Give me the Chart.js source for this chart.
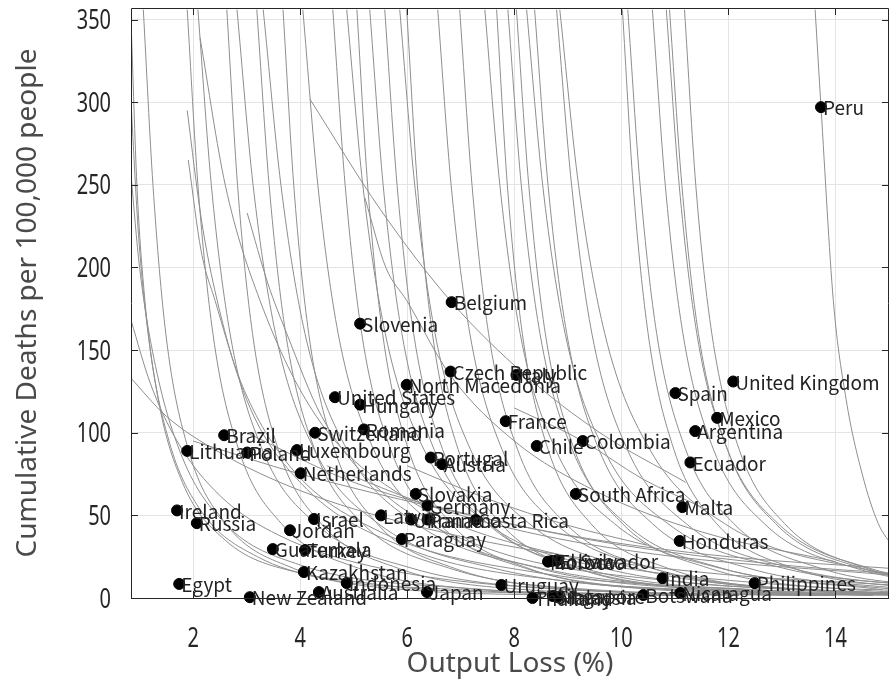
<!DOCTYPE html>
<html lang="en">
<head>
<meta charset="UTF-8">
<title>Output Loss and Cumulative Deaths</title>
<script src="https://cdn.jsdelivr.net/npm/chart.js"></script>
<style>
  html, body { margin: 0; padding: 0; background: #fff; }
  #wrap { width: 890px; height: 686px; }
</style>
</head>
<body>
<div id="wrap"><canvas id="lossChart" width="890" height="686"></canvas></div>
<script>
// country points
const countries = [
  'Peru', 'Belgium', 'Slovenia', 'Czech Republic', 'Italy', 'North Macedonia',
  'United States', 'Hungary', 'Spain', 'United Kingdom', 'Mexico', 'Argentina',
  'France', 'Chile', 'Colombia', 'Ecuador', 'Romania', 'Switzerland', 'Brazil',
  'Lithuania', 'Poland', 'Luxembourg', 'Netherlands', 'Portugal', 'Austria',
  'Slovakia', 'Germany', 'Latvia', 'Ukraine', 'Panama', 'Costa Rica', 'Paraguay',
  'South Africa', 'Malta', 'Honduras', 'Ireland', 'Russia', 'Israel', 'Jordan',
  'Guatemala', 'Turkey', 'Kazakhstan', 'Egypt', 'New Zealand', 'Australia',
  'Indonesia', 'Japan', 'Uruguay', 'Morocco', 'Bolivia', 'El Salvador', 'India',
  'Philippines', 'Nicaragua', 'Botswana', 'Thailand', 'Singapore', 'Malaysia'
];
const outputLoss = [
  13.73, 6.83, 5.12, 6.81, 8.04, 5.99,
  4.65, 5.12, 11.01, 12.09, 11.79, 11.38,
  7.84, 8.42, 9.28, 11.29, 5.19, 4.28, 2.58,
  1.89, 3.01, 3.94, 4.01, 6.44, 6.65,
  6.16, 6.38, 5.51, 6.07, 6.38, 7.28, 5.90,
  9.15, 11.14, 11.09, 1.70, 2.07, 4.26, 3.81,
  3.49, 4.09, 4.07, 1.74, 3.06, 4.35,
  4.87, 6.37, 7.76, 8.63, 8.70, 8.80, 10.77,
  12.49, 11.10, 10.41, 8.34, 8.72, 8.81
];
const deaths = [
  297, 179, 166, 137, 135, 129,
  121.5, 117, 124, 131, 109, 101,
  107, 92, 95, 82, 102, 100, 98.5,
  89, 88, 89.5, 75.5, 85, 81,
  63, 56, 50, 47.5, 47.5, 47.2, 35.7,
  63, 55, 34.5, 53, 45.3, 47.8, 41,
  29.6, 29, 15.7, 8.5, 0.5, 3.6,
  9, 3.6, 7.9, 22, 22.4, 22.8, 12,
  9, 3, 1.8, 0, 1.2, 0.6
];

const xTicks = [2, 4, 6, 8, 10, 12, 14];
const yTicks = [0, 50, 100, 150, 200, 250, 300, 350];

// grey trade-off curves, [output loss, deaths] pairs
const isoCurves = [
  [[0.84,350],[0.95,250],[1.1,180],[1.35,120],[1.8,70],[2.6,35],[4,15],[7,5],[11,1.5]],
  [[0.84,300],[0.98,220],[1.2,150],[1.55,95],[2.1,55],[3.2,25],[5.5,8],[9,2]],
  [[0.84,256],[1.0,200],[1.3,140],[1.8,85],[2.6,45],[4,20],[7,6],[11,1.5]],
  [[0.84,168],[1.2,130],[1.7,95],[2.5,62],[3.6,38],[5.5,18],[9,5],[14,1.5]],
  [[0.84,133],[1.5,110],[2.5,88],[4,65],[6,45],[8.5,28],[12,14],[15,8]],
  [[1.07,356],[1.25,250],[1.49,160],[1.91,90],[2.61,45],[3.87,18],[5.97,5],[9.5,1.5]],
  [[1.89,356],[2.09,250],[2.37,160],[2.85,90],[3.65,45],[5.09,18],[7.49,5],[11.5,1.5]],
  [[2.09,356],[2.34,250],[2.69,160],[3.29,90],[4.29,45],[6.09,18],[9.09,5],[14,1.5]],
  [[2.63,356],[2.83,250],[3.11,160],[3.59,90],[4.39,45],[5.83,18],[8.23,5],[12.2,1.5]],
  [[2.82,356],[3.12,250],[3.54,160],[4.26,90],[5.46,45],[7.62,18],[11.22,5],[17,1.5]],
  [[3.19,356],[3.42,250],[3.73,160],[4.27,90],[5.17,45],[6.79,18],[9.49,5],[14,1.5]],
  [[3.31,356],[3.64,250],[4.09,160],[4.87,90],[6.17,45],[8.51,18],[12.41,5],[19,1.5]],
  [[3.68,356],[3.88,250],[4.16,160],[4.64,90],[5.44,45],[6.88,18],[9.28,5],[13.3,1.5]],
  [[4.05,356],[4.33,250],[4.71,160],[5.37,90],[6.47,45],[8.45,18],[11.75,5],[17,1.5]],
  [[4.61,356],[4.84,250],[5.15,160],[5.69,90],[6.59,45],[8.21,18],[10.91,5],[15.4,1.5]],
  [[4.87,356],[5.17,250],[5.59,160],[6.31,90],[7.51,45],[9.67,18],[13.27,5],[19,1.5]],
  [[5.06,356],[5.26,250],[5.54,160],[6.02,90],[6.82,45],[8.26,18],[10.66,5],[14.7,1.5]],
  [[5.30,356],[5.55,250],[5.90,160],[6.50,90],[7.50,45],[9.30,18],[12.30,5],[17.3,1.5]],
  [[5.58,356],[5.81,250],[6.12,160],[6.66,90],[7.56,45],[9.18,18],[11.88,5],[16.4,1.5]],
  [[5.86,356],[6.14,250],[6.52,160],[7.18,90],[8.28,45],[10.26,18],[13.56,5],[19,1.5]],
  [[5.99,356],[6.19,250],[6.47,160],[6.95,90],[7.75,45],[9.19,18],[11.59,5],[15.6,1.5]],
  [[6.57,356],[6.82,250],[7.17,160],[7.77,90],[8.77,45],[10.57,18],[13.57,5],[18.6,1.5]],
  [[6.98,356],[7.21,250],[7.52,160],[8.06,90],[8.96,45],[10.58,18],[13.28,5],[17.8,1.5]],
  [[7.45,356],[7.73,250],[8.11,160],[8.77,90],[9.87,45],[11.85,18],[15.15,5]],
  [[7.67,356],[7.87,250],[8.15,160],[8.63,90],[9.43,45],[10.87,18],[13.27,5],[17.3,1.5]],
  [[7.88,356],[8.13,250],[8.48,160],[9.08,90],[10.08,45],[11.88,18],[14.88,5]],
  [[8.04,356],[8.27,250],[8.58,160],[9.12,90],[10.02,45],[11.64,18],[14.34,5],[18.8,1.5]],
  [[8.23,356],[8.53,250],[8.95,160],[9.67,90],[10.87,45],[13.03,18],[16.63,5]],
  [[8.38,356],[8.63,250],[8.98,160],[9.58,90],[10.58,45],[12.38,18],[15.38,5]],
  [[8.79,356],[9.07,250],[9.45,160],[10.11,90],[11.21,45],[13.19,18],[16.49,5]],
  [[8.85,356],[9.20,250],[9.69,160],[10.53,90],[11.93,45],[14.45,18],[18.65,5]],
  [[10.02,356],[10.22,250],[10.50,160],[10.98,90],[11.78,45],[13.22,18],[15.62,5]],
  [[10.12,356],[10.35,250],[10.66,160],[11.20,90],[12.10,45],[13.72,18],[16.42,5]],
  [[10.58,356],[10.82,250],[11.15,160],[11.72,90],[12.67,45],[14.38,18],[17.23,5]],
  [[10.84,356],[11.08,250],[11.41,160],[11.98,90],[12.93,45],[14.64,18],[17.49,5]],
  [[10.90,356],[11.13,250],[11.44,160],[11.98,90],[12.88,45],[14.50,18],[17.20,5]],
  [[11.18,356],[11.39,250],[11.69,160],[12.20,90],[13.05,45],[14.58,18],[17.13,5]],
  [[13.62,356],[13.73,297],[13.96,180],[14.2,120],[14.5,75],[14.8,45],[15.1,30]],
  [[2.13,339],[2.6,250],[3.25,180],[4.3,110],[6,60],[9,25],[13,8],[17,3]],
  [[1.89,295],[2.15,230],[2.45,180],[3.0,120],[4.0,70],[6,30],[9,10],[13,3]],
  [[1.91,265],[2.15,210],[2.41,180],[2.9,130],[3.8,80],[5.5,40],[8.5,15],[13,4]],
  [[3.01,233],[3.4,190],[3.75,160],[4.4,110],[5.5,65],[7.5,30],[11,10],[15,3]],
  [[4.18,302],[5.5,235],[6.83,179],[8.2,135],[9.6,100],[11.2,70]],
  [[5.21,242],[5.6,200],[5.99,180],[6.8,135],[8,95],[9.5,65],[11.5,40],[14,22]],
  [[2.0,95],[4,75],[6.5,55],[9,38],[12,25],[15,18]],
  [[3.0,100],[5,70],[7.5,48],[10,32],[13,20],[15,15]],
  [[4.5,80],[6.5,55],[8.5,38],[11,25],[15,14]],
  [[6.0,80],[7.5,60],[9,44],[10.47,32]],
  [[8.0,115],[9.28,95],[10.4,72],[11.5,55]]
];

const labelFont = "19px 'Noto Sans CJK JP', 'Noto Sans', sans-serif";
const tickFont = "27px 'Noto Sans', sans-serif";
const titleFont = "28px 'Noto Sans', sans-serif";

const curveSets = isoCurves.map(pts => ({
  type: 'line',
  data: pts.map(p => ({ x: p[0], y: p[1] })),
  borderColor: '#8e8e8e',
  borderWidth: 1,
  pointRadius: 0,
  fill: false,
  cubicInterpolationMode: 'monotone',
  order: 2
}));

const pointSet = {
  type: 'scatter',
  data: outputLoss.map((x, i) => ({ x: x, y: deaths[i] })),
  backgroundColor: '#000',
  borderColor: '#000',
  pointRadius: 5.5,
  clip: false,
  order: 1
};

// country names next to their dots
const namePlugin = {
  id: 'names',
  afterDatasetsDraw(chart) {
    const { ctx, scales: { x, y } } = chart;
    ctx.save();
    ctx.font = labelFont;
    ctx.fillStyle = '#222';
    ctx.textAlign = 'left';
    ctx.textBaseline = 'middle';
    countries.forEach((name, i) => {
      ctx.fillText(name, x.getPixelForValue(outputLoss[i]) + 2, y.getPixelForValue(deaths[i]) + 1);
    });
    ctx.restore();
  }
};

// narrow tick numbers
function drawNumber(ctx, text, px, py, align) {
  ctx.save();
  ctx.translate(px, py);
  ctx.scale(0.74, 1);
  ctx.textAlign = align;
  ctx.textBaseline = 'alphabetic';
  ctx.fillText(text, 0, 9.6);
  ctx.restore();
}

// box, inward ticks, tick labels and axis titles
const framePlugin = {
  id: 'frame',
  afterDraw(chart) {
    const { ctx, chartArea: a, scales: { x, y } } = chart;
    ctx.save();
    ctx.strokeStyle = '#262626';
    ctx.lineWidth = 1;
    ctx.beginPath();
    ctx.rect(a.left + 0.5, a.top + 0.5, a.right - a.left - 1, a.bottom - a.top);
    xTicks.forEach(v => {
      const px = Math.round(x.getPixelForValue(v)) + 0.5;
      ctx.moveTo(px, a.bottom); ctx.lineTo(px, a.bottom - 7);
      ctx.moveTo(px, a.top); ctx.lineTo(px, a.top + 7);
    });
    yTicks.forEach(v => {
      const py = Math.round(y.getPixelForValue(v)) + 0.5;
      ctx.moveTo(a.left, py); ctx.lineTo(a.left + 7, py);
      ctx.moveTo(a.right, py); ctx.lineTo(a.right - 7, py);
    });
    ctx.stroke();

    ctx.fillStyle = '#262626';
    ctx.font = tickFont;
    yTicks.forEach(v => drawNumber(ctx, String(v), a.left - 20, y.getPixelForValue(v), 'right'));
    xTicks.forEach(v => drawNumber(ctx, String(v), x.getPixelForValue(v), 637, 'center'));

    ctx.fillStyle = '#4a4a4a';
    ctx.font = titleFont;
    ctx.textAlign = 'center';
    ctx.textBaseline = 'middle';
    ctx.fillText('Output Loss (%)', (a.left + a.right) / 2, 664);
    ctx.translate(28, (a.top + a.bottom) / 2);
    ctx.rotate(-Math.PI / 2);
    ctx.fillText('Cumulative Deaths per 100,000 people', 0, 0);
    ctx.restore();
  }
};

function fixBox(w, h) {
  return s => {
    if (w) s.width = w;
    if (h) s.height = h;
    s.paddingLeft = 0; s.paddingRight = 0; s.paddingTop = 0; s.paddingBottom = 0;
  };
}

new Chart(document.getElementById('lossChart'), {
  type: 'scatter',
  data: { datasets: [pointSet, ...curveSets] },
  options: {
    responsive: false,
    devicePixelRatio: 1,
    animation: false,
    layout: { autoPadding: false, padding: { top: 8, right: 1, left: 0, bottom: 0 } },
    plugins: { legend: { display: false }, tooltip: { enabled: false } },
    scales: {
      x: {
        type: 'linear',
        min: 0.84,
        max: 15,
        afterBuildTicks: s => { s.ticks = xTicks.map(v => ({ value: v })); },
        afterFit: fixBox(0, 88),
        grid: { color: '#e4e4e4', drawTicks: false },
        border: { display: false },
        ticks: { display: false }
      },
      y: {
        type: 'linear',
        min: 0,
        max: 357,
        afterBuildTicks: s => { s.ticks = yTicks.map(v => ({ value: v })); },
        afterFit: fixBox(131, 0),
        grid: { color: '#e4e4e4', drawTicks: false },
        border: { display: false },
        ticks: { display: false }
      }
    }
  },
  plugins: [namePlugin, framePlugin]
});
</script>
</body>
</html>
